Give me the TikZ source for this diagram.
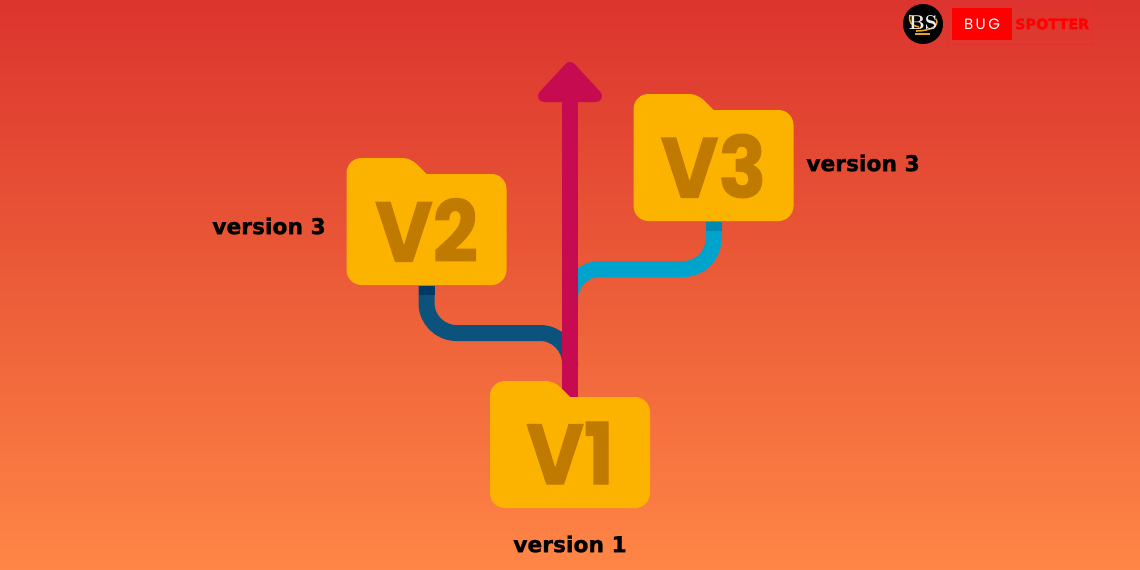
\documentclass[tikz,border=0pt]{standalone}
\usepackage{fontspec}
\usepackage{tikz}
\usetikzlibrary{backgrounds,calc}
\newfontfamily\versionfont[FakeStretch=0.93,BoldFeatures={FakeBold=1.2}]{Poppins}
\newfontfamily\labelfont[BoldFeatures={FakeBold=1.2}]{DejaVu Sans}
\newfontfamily\logofont{Poppins}
\definecolor{bgtop}{RGB}{220,52,46}
\definecolor{bgmid}{RGB}{235,92,56}
\definecolor{bgbottom}{RGB}{255,134,70}
\definecolor{foldery}{RGB}{252,179,0}
\definecolor{folderd}{RGB}{192,122,0}
\definecolor{trunkc}{RGB}{199,11,80}
\definecolor{branchd}{RGB}{11,82,124}
\definecolor{stubd}{RGB}{0,58,102}
\definecolor{branchl}{RGB}{0,163,204}
\definecolor{stubl}{RGB}{0,137,176}
\definecolor{logored}{RGB}{255,0,0}
\definecolor{logogold}{RGB}{230,160,40}
\definecolor{logoline}{RGB}{228,48,48}
\tikzset{
          folderbox/.style={
            rectangle,inner sep=0pt,
            minimum width=160pt,minimum height=128pt
          },
          foldertext/.style={
            inner sep=0pt,text=folderd,
            font=\versionfont\bfseries\fontsize{85}{85}\selectfont
          },
          versionlabel/.style={font=\labelfont\bfseries\fontsize{21.8}{21.8}\selectfont,text=black,inner sep=0pt},
          trunk/.style={draw=trunkc,line width=16pt},
          branch/.style={line width=16pt,rounded corners=30pt}
        }
\newcommand\FolderNode[3]{%
          \fill[foldery,shift={(#2)},rounded corners=15pt]
            (-80,-48) rectangle (80,63);
          \fill[foldery,shift={(#2)}]
            (-80,-30) [rounded corners=15pt] -- (-80,-64) [rounded corners=8pt]
            -- (-16,-64) -- (24,-24) -- cycle;
          \node[folderbox] (#1) at (#2) {};
          \node[foldertext] (#1text) at ([yshift=-8pt]#1.center) {#3};
        }
\begin{document}
\begin{tikzpicture}[x=1pt,y=-1pt]
            \useasboundingbox (0,0) rectangle (1140,570);

            \FolderNode{v1}{570,445}{V1}
            \FolderNode{v2}{426.5,222}{V2}
            \FolderNode{v3}{713.5,158}{V3}

            \node[versionlabel] (ver1) at (570,544) {version 1};
            \node[versionlabel] (ver2) at (269,226) {version 3};
            \node[versionlabel] (ver3) at (863,163) {version 3};

            \coordinate (join2) at (570,333);
            \coordinate (merge2) at (570,366);
            \coordinate (join3) at (570,269);
            \coordinate (merge3) at (570,302);
            \coordinate (tip) at (570,96);

            \begin{scope}[on background layer]
              \fill[top color=bgtop,bottom color=bgbottom,middle color=bgmid]
                (0,0) rectangle (1140,570);
              \draw[branch,draw=branchd] (v2.south) |- (join2) -- (merge2);
              \draw[branch,draw=branchl] (v3.south) |- (join3) -- (merge3);
              \draw[line width=16pt,draw=stubd] (v2.south) -- ++(0,9);
              \draw[line width=16pt,draw=stubl] (v3.south) -- ++(0,9);
              \draw[trunk] (v1.center) -- (tip);
              \draw[fill=trunkc,draw=trunkc,line width=12pt,line join=round]
                (544,96) -- (570,68) -- (596,96) -- cycle;
            \end{scope}

            % logo
            \node[circle,fill=black,minimum size=40pt,inner sep=0pt] (logo) at (923,24) {};
            \draw[logogold,line width=1.6pt] (910,15) .. controls (908,22) and (912,26) .. (919,27);
            \draw[logogold,line width=1.6pt] (936,19) .. controls (940,26) and (930,31) .. (916,31);
            \draw[logogold,line width=2pt] (915,34) -- (930,34);
            \node[text=white!85!gray,font=\bfseries\fontsize{20}{20}\selectfont,inner sep=0pt] (logobs) at (923,23) {BS};
            \draw[logoline,line width=0.8pt] (948,4) rectangle (1092,44);
            \node[fill=logored,text=white,minimum width=60pt,minimum height=32pt,inner sep=0pt,
                  font=\logofont\fontsize{15}{15}\selectfont] (bug) at (982,24) {B\,U\,G};
            \node[anchor=west,text=logored,inner sep=0pt,
                  font=\labelfont\bfseries\fontsize{14.4}{14.4}\selectfont] (spotter) at (1015,24) {SPOTTER};
          \end{tikzpicture}
\end{document}
